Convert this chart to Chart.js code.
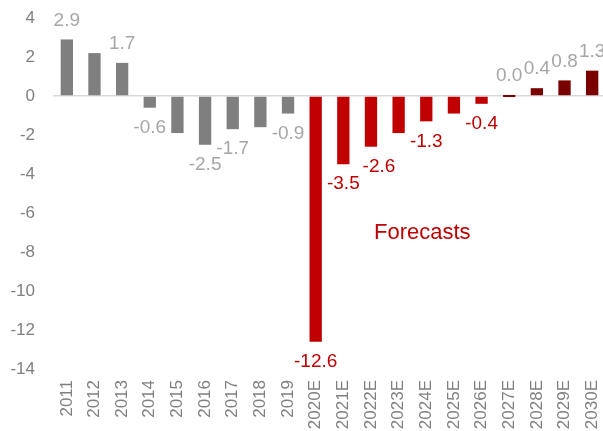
<!DOCTYPE html>
<html>
<head>
<meta charset="utf-8">
<script src="https://cdn.jsdelivr.net/npm/chart.js@4/dist/chart.umd.min.js"></script>
<style>
  html, body { margin: 0; padding: 0; overflow: hidden; background: #ffffff; }
  canvas { display: block; }
</style>
</head>
<body>
<canvas id="growthChart" width="608" height="446"></canvas>
<script>
// Annual growth, %, actuals 2011-2019 and estimates 2020E-2030E
const years = ['2011', '2012', '2013', '2014', '2015', '2016', '2017', '2018', '2019',
  '2020E', '2021E', '2022E', '2023E', '2024E', '2025E', '2026E', '2027E', '2028E', '2029E', '2030E'];
const growth = [2.9, 2.2, 1.7, -0.6, -1.9, -2.5, -1.7, -1.6, -0.9,
  -12.6, -3.5, -2.6, -1.9, -1.3, -0.9, -0.4, 0.0, 0.4, 0.8, 1.3];
// which bars carry a value label
const labelled = [true, false, true, true, false, true, true, false, true,
  true, true, true, false, true, false, true, true, true, true, true];
const yTicks = [4, 2, 0, -2, -4, -6, -8, -10, -12, -14];
const forecastNote = 'Forecasts';

const FONT = '"Liberation Sans", Arial, sans-serif';
const GREY_BAR = '#7F7F7F';
const RED_BAR = '#C00000';
const DARK_RED_BAR = '#7A0000';
const GREY_LABEL = '#A6A6A6';
const AXIS_TEXT = '#808080';

// 0 = actual, 1 = decline forecast, 2 = recovery forecast
function phaseOf(year) {
  if (!year.endsWith('E')) return 0;
  return parseInt(year, 10) <= 2026 ? 1 : 2;
}
const barColours = years.map(y => [GREY_BAR, RED_BAR, DARK_RED_BAR][phaseOf(y)]);
const labelColours = years.map(y => phaseOf(y) === 1 ? RED_BAR : GREY_LABEL);

const valueLabels = {
  id: 'valueLabels',
  afterDatasetsDraw(chart) {
    const { ctx } = chart;
    const meta = chart.getDatasetMeta(0);
    // horizontal nudge (px) for labels that would crowd a neighbour
    const nudge = { 11: 8 };
    ctx.save();
    ctx.font = '19px ' + FONT;
    ctx.textAlign = 'center';
    ctx.textBaseline = 'middle';
    meta.data.forEach((bar, i) => {
      if (!labelled[i]) return;
      const v = growth[i];
      const top = Math.min(bar.y, bar.base);
      const bottom = Math.max(bar.y, bar.base);
      const y = v >= 0 ? top - 19 : bottom + 20;
      ctx.fillStyle = labelColours[i];
      ctx.fillText(v.toFixed(1), bar.x + (nudge[i] || 0), y);
    });
    // note over the forecast period
    const xs = chart.scales.x;
    const ys = chart.scales.y;
    ctx.font = '22px ' + FONT;
    ctx.fillStyle = RED_BAR;
    ctx.fillText(forecastNote, xs.getPixelForValue(13) - 4, ys.getPixelForValue(-7));
    ctx.restore();
  }
};

function noScalePadding(scale) {
  scale.paddingTop = 0;
  scale.paddingBottom = 0;
  scale.paddingLeft = 0;
  scale.paddingRight = 0;
}

new Chart(document.getElementById('growthChart'), {
  type: 'bar',
  data: {
    labels: years,
    datasets: [{
      data: growth,
      backgroundColor: barColours,
      borderWidth: 0,
      barPercentage: 0.445,
      categoryPercentage: 1,
      minBarLength: 2
    }]
  },
  options: {
    responsive: false,
    animation: false,
    events: [],
    layout: { padding: { top: 18, right: 2, bottom: 0, left: 0 } },
    plugins: {
      legend: { display: false },
      tooltip: { enabled: false }
    },
    scales: {
      x: {
        grid: { display: false },
        border: { display: false },
        ticks: {
          autoSkip: false,
          minRotation: 90,
          maxRotation: 90,
          padding: 3,
          color: AXIS_TEXT,
          font: { family: FONT, size: 17 }
        },
        afterFit(scale) { scale.height = 446 - 369; noScalePadding(scale); }
      },
      y: {
        min: -14,
        max: 4,
        afterBuildTicks(scale) { scale.ticks = yTicks.map(v => ({ value: v })); },
        grid: {
          drawTicks: false,
          lineWidth: 1.5,
          color: c => (c.tick && c.tick.value === 0 ? '#D9D9D9' : 'rgba(0,0,0,0)')
        },
        border: { display: false },
        ticks: {
          padding: 18,
          color: AXIS_TEXT,
          font: { family: FONT, size: 17 }
        },
        afterFit(scale) { scale.width = 53; noScalePadding(scale); }
      }
    }
  },
  plugins: [valueLabels]
});
</script>
</body>
</html>
